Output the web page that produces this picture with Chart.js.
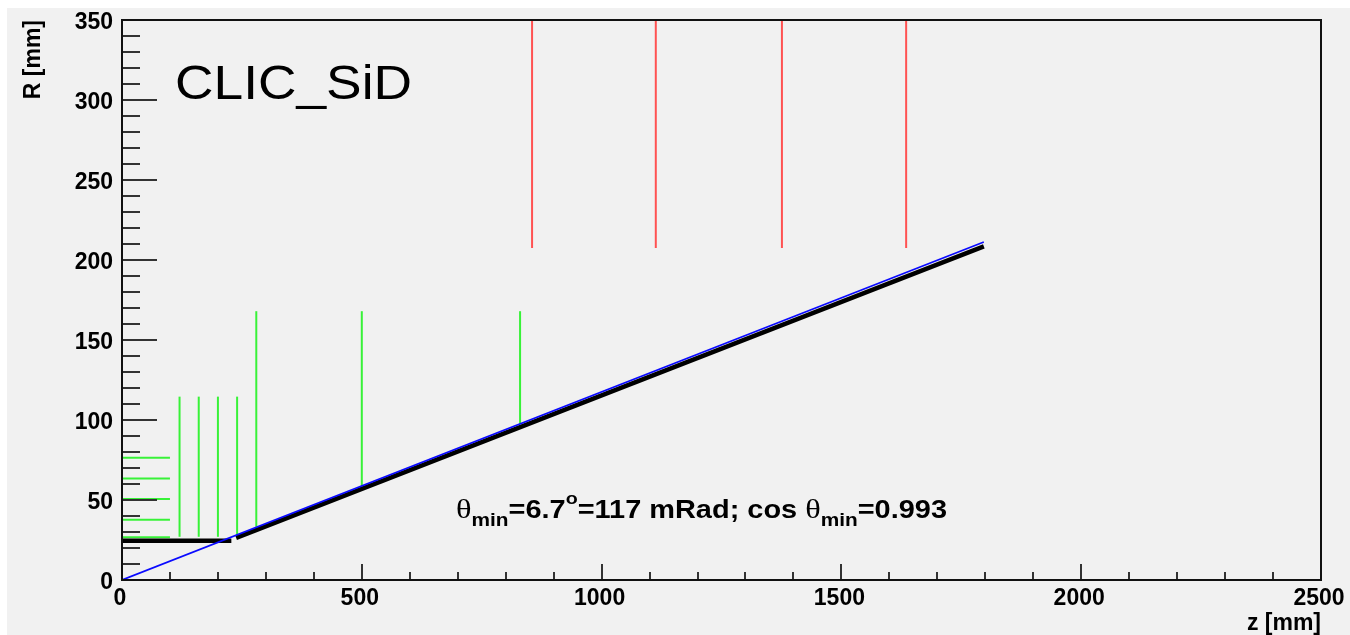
<!DOCTYPE html>
<html><head><meta charset="utf-8">
<script src="https://cdn.jsdelivr.net/npm/chart.js@4.4.1/dist/chart.umd.min.js"></script>
<style>html,body{margin:0;padding:0;background:#fff;} canvas{display:block;}</style>
</head><body>
<canvas id="c" width="1350" height="635"></canvas>
<script>
// ---- data (mm) ----
const xTicks = [0, 500, 1000, 1500, 2000, 2500];
const yTicks = [0, 50, 100, 150, 200, 250, 300, 350];
const coneZ = [0, 1797];
const coneR = [0, 211.2];
const beamPipeZ = [0, 228];
const beamPipeR = [24.6, 24.6];
const envelopeZ = [238, 1797];
const envelopeR = [26.3, 208.5];
const barrelR = [26.7, 37.7, 50.6, 63.5, 76.4];
const barrelZmin = [0, 0, 0, 0, 0];
const barrelZmax = [100, 100, 100, 100, 100];
const diskZ = [120, 160, 200, 240, 280, 500, 830];
const diskRin = [27, 27, 27, 28, 33.3, 58.5, 97.5];
const diskRout = [114.6, 114.6, 114.6, 114.6, 168, 168, 168];
const ecalZ = [855, 1113, 1376, 1635];
const ecalRin = [207.5, 207.5, 207.5, 207.5];
const ecalRout = [350, 350, 350, 350];
const yTitle = 'R [mm]';
const xTitle = 'z [mm]';
const label = 'CLIC_SiD';

const FONT = 'Liberation Sans';
const datasets = [];
function seg(x0, y0, x1, y1, color, width, order) {
  datasets.push({
    data: [{x: x0, y: y0}, {x: x1, y: y1}],
    showLine: true, borderColor: color, borderWidth: width,
    pointRadius: 0, fill: false, order: order, borderCapStyle: 'butt'
  });
}
seg(coneZ[0], coneR[0], coneZ[1], coneR[1], '#0a0aff', 1.7, 0);
seg(beamPipeZ[0], beamPipeR[0], beamPipeZ[1], beamPipeR[1], '#000', 4.5, 1);
seg(envelopeZ[0], envelopeR[0], envelopeZ[1], envelopeR[1], '#000', 4.5, 1);
barrelR.forEach((r, i) => seg(barrelZmin[i], r, barrelZmax[i], r, '#38f238', 2, 2));
diskZ.forEach((z, i) => seg(z, diskRin[i], z, diskRout[i], '#38f238', 2, 2));
ecalZ.forEach((z, i) => seg(z, ecalRin[i], z, ecalRout[i], '#ff5252', 2, 2));

const bgPlugin = {
  id: 'bg',
  beforeDraw(chart) {
    const c = chart.ctx;
    c.save();
    c.fillStyle = '#ffffff'; c.fillRect(0, 0, 1350, 635);
    c.fillStyle = '#f1f1f1'; c.fillRect(7, 8, 1343, 627);
    c.restore();
  }
};

const axisPlugin = {
  id: 'rootaxes',
  afterDatasetsDraw(chart) {
    const c = chart.ctx;
    const {left, right, top, bottom} = chart.chartArea;
    const xs = chart.scales.x, ys = chart.scales.y;
    c.save();
    c.strokeStyle = '#333'; c.lineWidth = 2;
    c.beginPath();
    for (let v = 0; v <= 2500; v += 100) {
      const px = Math.round(xs.getPixelForValue(v));
      const len = (v % 500 === 0) ? 16 : 8;
      c.moveTo(px, bottom); c.lineTo(px, bottom - len);
    }
    for (let v = 0; v <= 350; v += 10) {
      const py = Math.round(ys.getPixelForValue(v));
      const len = (v % 50 === 0) ? 35 : 18;
      c.moveTo(left, py); c.lineTo(left + len, py);
    }
    c.stroke();
    c.strokeStyle = '#111'; c.lineWidth = 2;
    c.strokeRect(left, top, right - left, bottom - top);
    c.restore();
  },
  afterDraw(chart) {
    const c = chart.ctx;
    c.save();
    c.fillStyle = '#000';
    c.textBaseline = 'alphabetic';
    c.font = '48px "' + FONT + '"';
    const w = c.measureText(label).width;
    c.translate(175, 99);
    c.scale(237 / w, 1);
    c.fillText(label, 0, 0);
    c.restore();

    c.save();
    c.fillStyle = '#000';
    const base = 518;
    const pieces = [
      {t: 'θ', f: '28px "Liberation Serif"', dy: 0},
      {t: 'min', f: 'bold 18px "' + FONT + '"', dy: 8},
      {t: '=6.7', f: 'bold 25px "' + FONT + '"', dy: 0},
      {t: 'o', f: 'bold 17px "' + FONT + '"', dy: -14},
      {t: '=117 mRad; cos ', f: 'bold 25px "' + FONT + '"', dy: 0},
      {t: 'θ', f: '28px "Liberation Serif"', dy: 0},
      {t: 'min', f: 'bold 18px "' + FONT + '"', dy: 8},
      {t: '=0.993', f: 'bold 25px "' + FONT + '"', dy: 0}
    ];
    let total = 0;
    pieces.forEach(p => { c.font = p.f; p.w = c.measureText(p.t).width; total += p.w; });
    c.translate(456, base);
    c.scale(491 / total, 1);
    let x = 0;
    pieces.forEach(p => { c.font = p.f; c.fillText(p.t, x, p.dy); x += p.w; });
    c.restore();
  }
};

new Chart(document.getElementById('c'), {
  type: 'scatter',
  data: {datasets},
  options: {
    responsive: false, animation: false, events: [],
    layout: {padding: {left: 0, top: 20, right: 29, bottom: 0}},
    plugins: {legend: {display: false}, tooltip: {enabled: false}},
    scales: {
      x: {
        type: 'linear', min: 0, max: 2500,
        afterBuildTicks: s => { s.ticks = xTicks.map(v => ({value: v})); },
        afterFit: s => { s.height = 55; s.paddingLeft = 0; s.paddingRight = 0; },
        grid: {display: false, drawTicks: false},
        border: {display: false},
        ticks: {color: '#000', font: {family: FONT, weight: 'bold', size: 23}, padding: 5, maxRotation: 0, autoSkip: false,
                labelOffset: -2, callback: v => String(v)},
        title: {display: true, text: xTitle, align: 'end', color: '#000',
                font: {family: FONT, weight: 'bold', size: 23, lineHeight: 1}, padding: {top: 0, bottom: 0}}
      },
      y: {
        type: 'linear', min: 0, max: 350,
        afterBuildTicks: s => { s.ticks = yTicks.map(v => ({value: v})); },
        afterFit: s => { s.width = 122; s.paddingTop = 0; s.paddingBottom = 0; },
        grid: {display: false, drawTicks: false},
        border: {display: false},
        ticks: {color: '#000', font: {family: FONT, weight: 'bold', size: 23}, padding: 9, autoSkip: false,
                labelOffset: 3, callback: v => String(v)},
        title: {display: true, text: yTitle, align: 'end', color: '#000',
                font: {family: FONT, weight: 'bold', size: 23, lineHeight: 1.2}, padding: {top: 20, bottom: 0}}
      }
    }
  },
  plugins: [bgPlugin, axisPlugin]
});
</script>
</body></html>
